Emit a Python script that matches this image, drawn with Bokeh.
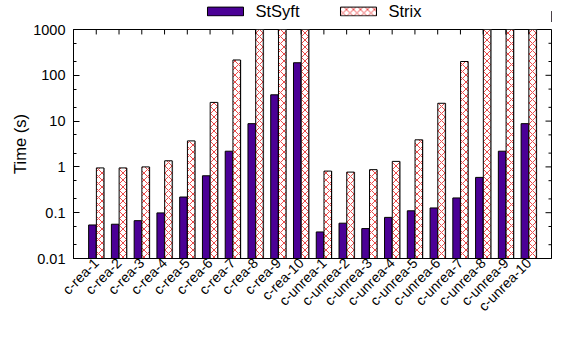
import numpy as np
from bokeh.plotting import figure
from bokeh.layouts import column
from bokeh.models import (Range1d, FixedTicker, Legend, LegendItem,
                          ColumnDataSource, NumeralTickFormatter)
from bokeh.transform import dodge
from bokeh.embed import file_html
from bokeh.resources import INLINE

categories = ["c-rea-1", "c-rea-2", "c-rea-3", "c-rea-4", "c-rea-5",
              "c-rea-6", "c-rea-7", "c-rea-8", "c-rea-9", "c-rea-10",
              "c-unrea-1", "c-unrea-2", "c-unrea-3", "c-unrea-4", "c-unrea-5",
              "c-unrea-6", "c-unrea-7", "c-unrea-8", "c-unrea-9", "c-unrea-10"]
stsyft = [0.054, 0.056, 0.067, 0.099, 0.22, 0.64, 2.2, 8.8, 37.5, 188,
          0.038, 0.059, 0.045, 0.079, 0.11, 0.127, 0.21, 0.59, 2.2, 8.8]
strix = [0.95, 0.95, 1.0, 1.36, 3.7, 25.6, 216, 1000, 1000, 1000,
         0.81, 0.77, 0.87, 1.32, 3.9, 24.5, 200, 1000, 1000, 1000]
y_ticks = [0.01, 0.1, 1, 10, 100, 1000]
y_minor = [0.02, 0.05, 0.2, 0.5, 2, 5, 20, 50, 200, 500]

FONT = "Liberation Sans"
W, LEG_H, H = 552, 22, 300
BL, BR, BT, BB = 73, 1, 7, 62
X0, X1 = -1, 20
Y0, Y1 = 0.01, 1000
FW, FH = W - BL - BR, H - BT - BB
px_x = (X1 - X0) / FW
px_logy = (np.log10(Y1) - np.log10(Y0)) / FH

STSYFT_STYLE = dict(fill_color="#4b0096", line_color="black", line_width=1)
STRIX_STYLE = dict(fill_color="white", line_color="black", line_width=1,
                   hatch_pattern="x", hatch_color="#ec4a4a", hatch_scale=7, hatch_weight=1)

idx = list(range(len(categories)))
src = ColumnDataSource(dict(x=idx, cat=categories, stsyft=stsyft, strix=strix,
                            base=[Y0] * len(categories)))

p = figure(width=W, height=H,
           x_range=Range1d(X0, X1), y_range=Range1d(Y0, Y1),
           y_axis_type="log", output_backend="svg", toolbar_location=None,
           min_border_left=BL, min_border_right=BR, min_border_top=BT, min_border_bottom=BB)
p.background_fill_color = "white"
p.border_fill_color = "white"
p.grid.visible = False
p.outline_line_color = "black"
p.outline_line_alpha = 1.0
p.outline_line_width = 1

p.vbar(x=dodge("x", -0.17), width=0.33, top="stsyft", bottom="base", source=src, **STSYFT_STYLE)
p.vbar(x=dodge("x", 0.21), width=0.33, top="strix", bottom="base", source=src,
       fill_color="#a0a0a0", line_color=None)
p.vbar(x=dodge("x", 0.17), width=0.33, top="strix", bottom="base", source=src, **STRIX_STYLE)

# mirrored ticks (top and right borders), derived from the tick lists and ranges
tick_y_top = Y1 / 10 ** (5 * px_logy)
p.segment(x0=idx, x1=idx, y0=[Y1] * len(idx), y1=[tick_y_top] * len(idx),
          line_color="black", line_width=1)
p.segment(x0=[X1] * len(y_ticks), x1=[X1 - 6 * px_x] * len(y_ticks),
          y0=y_ticks, y1=y_ticks, line_color="black", line_width=1)
p.segment(x0=[X1] * len(y_minor), x1=[X1 - 3 * px_x] * len(y_minor),
          y0=y_minor, y1=y_minor, line_color="black", line_width=1)

# bottom axis
xa = p.xaxis[0]
xa.ticker = FixedTicker(ticks=idx)
xa.major_label_overrides = {i: c for i, c in enumerate(categories)}
xa.major_label_orientation = np.pi / 4
xa.major_tick_in = 0
xa.major_tick_out = 0
xa.minor_tick_in = 0
xa.minor_tick_out = 0
xa.major_label_standoff = 2
xa.major_label_text_font = FONT
xa.major_label_text_font_size = "14px"
xa.major_label_text_color = "black"
xa.axis_line_color = "black"

# left axis
ya = p.yaxis[0]
ya.ticker = FixedTicker(ticks=y_ticks, minor_ticks=y_minor)
ya.formatter = NumeralTickFormatter(format="0.[00]")
ya.major_tick_in = 6
ya.major_tick_out = 0
ya.minor_tick_in = 3
ya.minor_tick_out = 0
ya.major_label_standoff = 8
ya.major_label_text_font = FONT
ya.major_label_text_font_size = "14.5px"
ya.major_label_text_color = "black"
ya.axis_label = "Time (s)"
ya.axis_label_text_font = FONT
ya.axis_label_text_font_size = "16.5px"
ya.axis_label_text_font_style = "normal"
ya.axis_label_text_color = "black"
ya.axis_label_standoff = 1
ya.axis_line_color = "black"

# legend row above the chart; its frame is aligned with the chart's frame
pl = figure(width=W, height=LEG_H, x_range=Range1d(0, 1), y_range=Range1d(0, 1),
            x_axis_location=None, y_axis_location=None,
            output_backend="svg", toolbar_location=None,
            min_border_left=BL, min_border_right=BR, min_border_top=0, min_border_bottom=0)
pl.grid.visible = False
pl.outline_line_color = None
pl.background_fill_color = "white"
pl.border_fill_color = "white"
# renderers that only supply the legend swatches (their bar lies outside the view)
swatch_src = ColumnDataSource(dict(x=[5], top=[0.5]))
l1 = pl.vbar(x="x", top="top", width=0.1, source=swatch_src, **STSYFT_STYLE)
l2 = pl.vbar(x="x", top="top", width=0.1, source=swatch_src, **STRIX_STYLE)
legend = Legend(items=[LegendItem(label="StSyft", renderers=[l1], index=0),
                       LegendItem(label="Strix", renderers=[l2], index=0)],
                orientation="horizontal", location="center",
                glyph_width=45, glyph_height=11,
                label_text_font=FONT, label_text_font_size="16.5px",
                label_text_color="black",
                label_standoff=8, spacing=36, padding=0, margin=0,
                border_line_color=None, background_fill_alpha=0)
pl.add_layout(legend)

layout = column(pl, p, spacing=0)
open("out.html", "w").write(file_html(layout, INLINE))
